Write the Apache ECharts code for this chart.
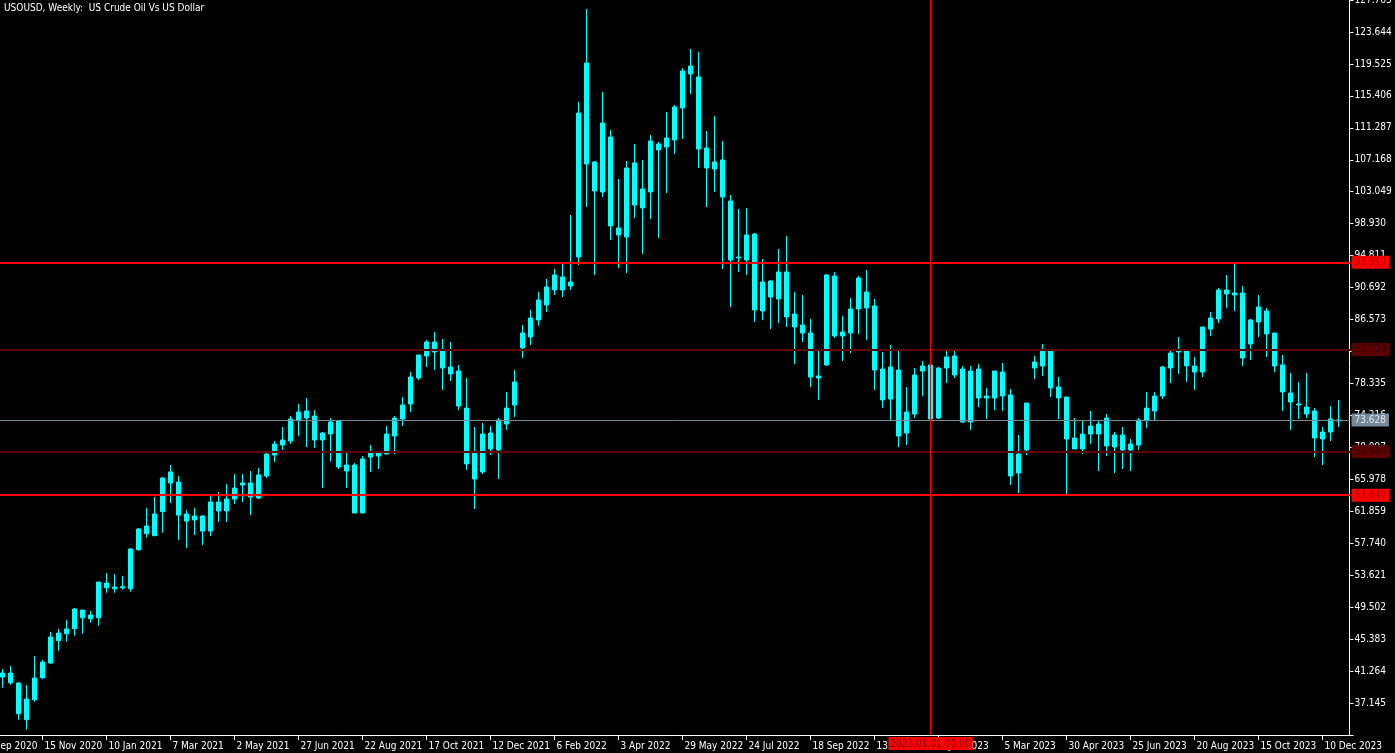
<!DOCTYPE html>
<html><head><meta charset="utf-8">
<script src="https://cdn.jsdelivr.net/npm/echarts@6/dist/echarts.min.js"></script>
<style>html,body{margin:0;padding:0;background:#000;overflow:hidden}#c{width:1395px;height:753px}</style>
</head><body><div id="c"></div>
<script>
const TITLE = 'USOUSD, Weekly:  US Crude Oil Vs US Dollar';
const FIRST_LABEL_WEEK = Date.UTC(2020, 8, 20); // 20 Sep 2020 (left edge, no candle)
const LEAD_EMPTY = 3, TRAIL_EMPTY = 1;
const MONTHS = ['Jan','Feb','Mar','Apr','May','Jun','Jul','Aug','Sep','Oct','Nov','Dec'];

const open = [40.50,41.01,39.72,34.99,37.57,40.41,42.30,45.18,46.08,46.72,
49.13,48.01,48.14,52.61,52.10,52.01,51.88,56.90,59.96,58.71,
61.81,66.93,65.63,61.51,60.74,61.25,59.32,63.06,61.90,63.44,
65.25,65.51,63.57,66.41,69.11,70.40,70.92,73.63,74.79,74.14,
71.05,71.82,73.50,67.05,67.83,61.64,68.86,69.50,69.24,71.57,
73.76,75.69,79.04,81.88,83.68,82.52,80.46,79.94,75.17,69.50,
66.92,71.95,69.76,73.11,75.56,82.91,84.33,86.52,88.45,90.39,
92.06,90.90,94.64,119.65,106.89,103.02,110.11,98.38,97.22,106.76,
100.96,103.02,109.21,108.82,109.72,113.85,119.26,117.84,108.69,105.98,
107.14,101.86,94.51,94.25,97.60,87.68,91.55,89.23,92.71,87.29,
85.87,84.84,79.04,80.72,92.19,84.46,84.84,87.94,90.13,88.33,
80.20,76.33,80.07,71.95,74.40,79.94,80.72,73.88,80.33,81.88,
80.20,73.37,80.20,76.46,76.46,79.81,76.85,66.79,69.76,80.33,
80.59,82.52,77.88,76.59,71.31,69.89,71.82,73.11,73.88,70.15,
71.69,69.76,70.40,73.63,74.79,76.72,80.33,82.39,82.52,80.59,
79.81,85.36,86.65,90.39,89.74,90.00,83.42,86.26,87.68,84.84,
80.72,77.11,75.69,75.30,74.79,71.18,72.08,73.50];

const close = [41.01,39.76,35.77,37.66,40.37,42.43,45.65,46.17,46.69,49.26,
48.14,48.49,52.74,52.01,51.88,52.14,56.99,59.58,58.97,61.51,
66.15,65.51,61.38,60.61,61.25,59.32,63.06,61.90,63.44,64.86,
65.51,63.70,66.54,69.24,70.53,71.05,73.76,74.66,73.88,71.05,
71.95,73.37,67.57,67.83,61.64,68.60,69.37,68.98,71.82,73.88,
75.56,79.17,82.01,83.68,82.39,80.33,79.56,75.43,67.96,66.02,
71.82,69.89,73.63,75.17,78.53,84.84,86.77,89.10,90.77,92.32,
90.39,91.42,113.20,106.63,103.15,111.91,98.64,97.48,106.11,101.34,
103.41,109.59,108.44,109.98,113.98,118.62,118.23,108.56,106.11,106.89,
102.37,94.25,94.64,97.48,87.81,91.42,89.48,92.71,86.91,85.62,
84.84,79.17,79.30,92.32,84.46,84.97,87.94,91.93,88.07,80.07,
76.21,80.46,71.56,74.66,79.43,80.59,73.76,80.33,81.75,79.43,
73.37,79.94,76.46,76.72,79.94,76.72,66.41,69.24,75.82,81.10,
82.65,77.75,76.46,71.18,69.89,71.82,72.85,71.82,70.28,71.69,
69.76,70.53,73.63,75.17,76.72,80.46,82.27,82.52,80.59,79.81,
85.62,86.77,90.39,89.87,90.00,81.62,86.52,88.19,84.71,80.59,
77.24,75.95,75.56,74.40,71.31,72.08,73.76,73.628];

const high = [41.53,41.92,39.85,39.47,43.20,42.69,46.30,46.69,47.85,49.39,
49.13,49.00,52.74,53.90,53.78,53.52,57.13,59.71,62.28,63.70,
66.28,67.83,66.41,62.03,62.28,61.38,63.83,64.35,65.38,66.67,
66.67,67.05,67.44,69.50,70.92,72.73,74.14,75.69,76.46,74.92,
72.08,73.88,73.63,69.50,68.08,68.98,70.40,69.50,72.85,74.14,
76.59,79.81,82.01,83.94,84.97,84.07,83.68,80.72,79.04,72.73,
73.24,72.85,73.88,77.24,80.07,85.87,87.81,90.13,91.80,93.09,
93.87,100.05,114.62,126.61,107.01,115.91,111.01,104.69,107.01,109.21,
107.14,110.37,109.46,113.33,114.23,119.00,121.45,121.07,110.88,112.82,
109.59,102.63,100.83,100.96,97.73,94.38,91.67,95.67,97.35,90.13,
89.74,86.65,82.52,92.45,92.71,87.03,89.36,92.19,92.96,89.23,
82.39,83.30,82.65,77.88,80.33,81.23,80.85,80.46,82.65,82.65,
80.59,80.59,80.85,77.75,79.94,80.98,77.62,71.69,75.82,81.88,
83.42,82.65,79.17,76.59,73.88,73.63,74.79,73.63,74.40,72.08,
72.73,71.18,73.88,77.24,77.24,80.59,82.65,84.33,82.65,81.75,
85.62,87.55,90.64,92.32,93.87,90.90,86.65,89.74,88.07,84.84,
82.01,79.69,78.53,79.69,75.17,72.73,75.43,76.21];

const low = [39.12,39.50,34.99,33.70,37.31,40.24,42.21,43.89,45.05,45.82,
46.08,47.50,47.11,51.36,51.36,51.75,51.49,56.78,58.46,58.71,
59.10,62.93,58.16,57.13,58.80,57.51,58.68,60.48,60.48,62.80,
63.06,61.38,63.44,66.15,68.21,69.76,70.53,71.57,70.15,70.02,
64.86,68.28,67.31,64.86,61.64,61.64,66.92,67.31,69.24,69.24,
72.85,74.66,78.78,80.46,80.07,77.49,78.65,74.92,67.18,62.15,
66.67,69.11,66.02,72.34,74.01,81.62,83.30,85.75,87.55,89.74,
89.48,90.39,93.61,101.09,92.32,102.37,96.83,93.22,92.58,99.67,
95.03,99.54,97.09,102.89,107.92,109.85,115.65,106.11,101.09,103.02,
93.09,88.19,92.71,92.32,86.26,86.52,85.36,86.13,85.62,80.85,
83.68,77.88,76.21,80.59,84.20,81.23,82.27,84.71,83.94,77.49,
75.17,73.50,70.15,70.40,73.88,76.72,73.63,73.76,78.40,79.04,
73.24,72.34,75.30,73.76,74.92,74.79,65.25,64.22,69.11,78.91,
79.30,76.59,73.76,64.09,69.89,69.24,70.53,67.05,68.98,66.79,
67.31,67.05,69.76,72.60,73.63,76.33,78.40,79.56,78.53,77.49,
79.17,84.46,86.13,88.07,87.68,80.59,81.36,84.33,81.75,79.81,
74.79,72.34,73.76,73.88,68.86,67.83,70.92,72.72];

// y axis tick labels: from 33.026 step 4.119 to 127.763
const Y_MIN = 33.026, Y_STEP = 4.119, Y_MAX = 127.763;

// horizontal price levels
const levelPrices = [93.950, 82.709, 73.628, 69.580, 63.940];
const levelColors = ['#ff0000', '#5e0000', '#778899', '#5e0000', '#ff0000'];
const levelTextColors = ['#b00000', '#300000', '#dde3ea', '#300000', '#b00000'];
const levelWidths = [2, 2, 1, 2, 2];
const markerDate = '1 Jan 2023';
const markerText = '2023.01.01 00:00';

const FONT = "'Liberation Sans Narrow', 'Arial Narrow', 'DejaVu Sans Condensed', 'Liberation Sans', sans-serif";
const FS = 10;

// weekly categories
const n = LEAD_EMPTY + open.length + TRAIL_EMPTY;
const categories = [];
for (let i = 0; i < n; i++) {
  const d = new Date(FIRST_LABEL_WEEK + i * 7 * 86400000);
  categories.push(d.getUTCDate() + ' ' + MONTHS[d.getUTCMonth()] + ' ' + d.getUTCFullYear());
}
const candleData = [];
for (let i = 0; i < LEAD_EMPTY; i++) candleData.push('-');
for (let i = 0; i < open.length; i++) candleData.push([open[i], close[i], low[i], high[i]]);
for (let i = 0; i < TRAIL_EMPTY; i++) candleData.push('-');

const BAND = 8;
const firstCenter = 2.5;
const gridLeft = firstCenter - (LEAD_EMPTY + 0.5) * BAND;
const gridWidth = n * BAND;

const markData = levelPrices.map((p, i) => ({
  yAxis: p,
  lineStyle: { color: levelColors[i], width: levelWidths[i], type: 'solid' },
  label: {
    show: true, position: 'end', distance: 1,
    formatter: p.toFixed(3),
    backgroundColor: levelColors[i], color: levelTextColors[i],
    padding: [2, 3, 1, 3], fontSize: FS, fontFamily: FONT
  }
}));
markData.push({
  xAxis: markerDate,
  lineStyle: { color: '#ff0000', width: 1, type: 'solid' },
  label: {
    show: true, position: 'start', distance: 2,
    formatter: markerText,
    backgroundColor: '#ff0000', color: '#700000',
    padding: [2, 2, 1, 2], fontSize: FS, fontFamily: FONT
  }
});

const chart = echarts.init(document.getElementById('c'), null, { renderer: 'canvas' });
chart.setOption({
  animation: false,
  backgroundColor: '#000000',
  title: {
    text: TITLE, left: 4, top: 3, padding: 0,
    textStyle: { color: '#ffffff', fontSize: FS, fontWeight: 'normal', fontFamily: FONT }
  },
  grid: { left: gridLeft, top: 0, width: gridWidth, height: 735, containLabel: false, outerBoundsMode: 'none' },
  xAxis: {
    type: 'category', data: categories, boundaryGap: true,
    axisLine: { lineStyle: { color: '#ffffff', width: 1 } },
    axisTick: { show: true, interval: 7, alignWithLabel: true, length: 5, lineStyle: { color: '#ffffff' } },
    axisLabel: {
      interval: 7, color: '#ffffff', fontSize: FS, fontFamily: FONT,
      align: 'left', margin: 6, padding: [0, 0, 0, 2], hideOverlap: false
    },
    splitLine: { show: false }
  },
  yAxis: {
    type: 'value', position: 'right', offset: -1,
    min: Y_MIN, max: Y_MAX, interval: Y_STEP, scale: true,
    axisLine: { show: true, lineStyle: { color: '#ffffff', width: 1 } },
    axisTick: { show: true, length: 4, lineStyle: { color: '#ffffff' } },
    axisLabel: {
      color: '#ffffff', fontSize: FS, fontFamily: FONT, margin: 5, hideOverlap: false,
      formatter: v => (v < Y_MIN + 1 ? '' : v.toFixed(3))
    },
    splitLine: { show: false }
  },
  series: [{
    type: 'candlestick',
    data: candleData,
    barWidth: 4,
    itemStyle: {
      color: '#00ffff', color0: '#00ffff',
      borderColor: '#00ffff', borderColor0: '#00ffff', borderWidth: 1
    },
    markLine: {
      silent: true, symbol: ['none', 'none'], animation: false,
      data: markData
    }
  }]
});
</script>
</body></html>
